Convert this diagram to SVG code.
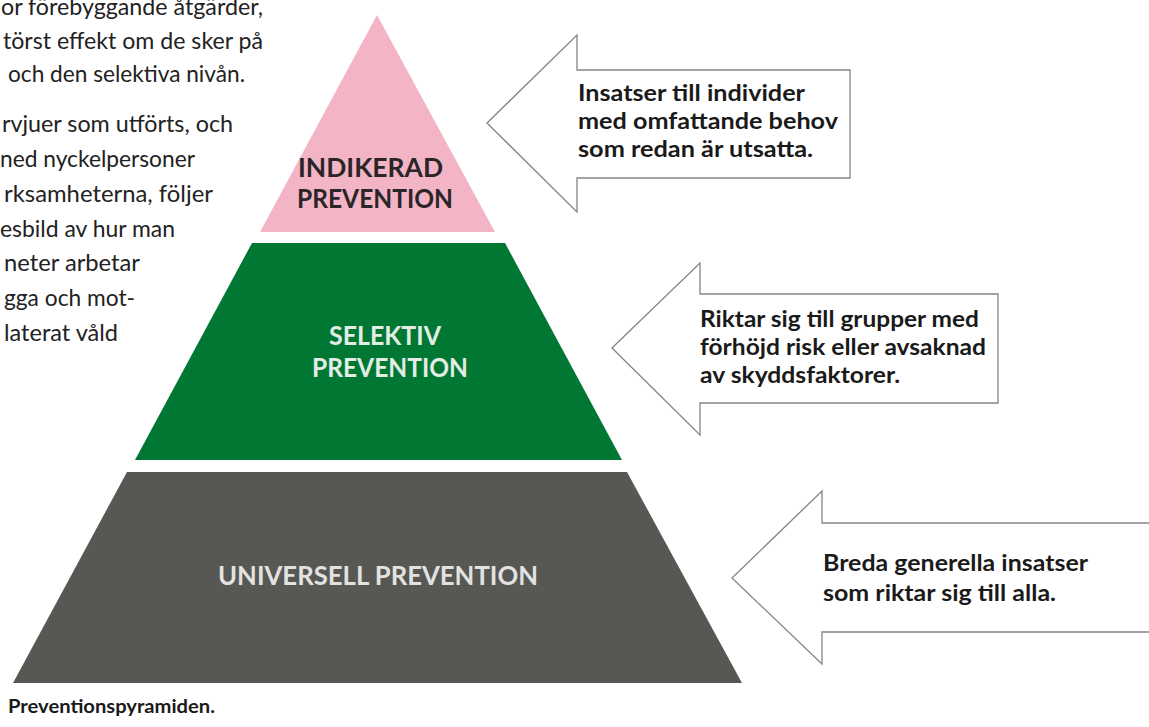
<svg xmlns="http://www.w3.org/2000/svg" width="1149" height="727" viewBox="0 0 1149 727">
<style>
.para{font-family:Lato,"Liberation Sans",sans-serif;font-size:23px;fill:#222;}
.lbl{font-family:Lato,"Liberation Sans",sans-serif;font-weight:bold;font-size:27px;}
.atxt{font-family:Lato,"Liberation Sans",sans-serif;font-weight:bold;font-size:23px;fill:#1a1a1a;}
.cap{font-family:Lato,"Liberation Sans",sans-serif;font-weight:bold;font-size:19px;fill:#1a1a1a;}
.arrow{fill:#fff;stroke:#858585;stroke-width:1.3;stroke-linejoin:miter;}
</style>
<rect width="1149" height="727" fill="#fff"/>
<g id="paragraph">
<text class="para" x="1" y="15" textLength="262" lengthAdjust="spacingAndGlyphs">or förebyggande åtgärder,</text>
<text class="para" x="3" y="49" textLength="260" lengthAdjust="spacingAndGlyphs">törst effekt om de sker på</text>
<text class="para" x="8" y="82" textLength="237" lengthAdjust="spacingAndGlyphs">och den selektiva nivån.</text>
<text class="para" x="2" y="132" textLength="231" lengthAdjust="spacingAndGlyphs">rvjuer som utförts, och</text>
<text class="para" x="0" y="167" textLength="195" lengthAdjust="spacingAndGlyphs">ned nyckelpersoner</text>
<text class="para" x="4" y="202" textLength="209" lengthAdjust="spacingAndGlyphs">rksamheterna, följer</text>
<text class="para" x="0" y="237" textLength="175" lengthAdjust="spacingAndGlyphs">esbild av hur man</text>
<text class="para" x="4" y="271" textLength="136" lengthAdjust="spacingAndGlyphs">neter arbetar</text>
<text class="para" x="4" y="306" textLength="131" lengthAdjust="spacingAndGlyphs">gga och mot-</text>
<text class="para" x="4" y="341" textLength="114" lengthAdjust="spacingAndGlyphs">laterat våld</text>
</g>
<g id="indikerad">
<polygon points="377,15 495,232 260,232" fill="#f3b4c6"/>
<text class="lbl" x="298" y="177" fill="#2a2526" textLength="145" lengthAdjust="spacingAndGlyphs">INDIKERAD</text>
<text class="lbl" x="297" y="208" fill="#2a2526" textLength="156" lengthAdjust="spacingAndGlyphs">PREVENTION</text>
</g>
<g id="selektiv">
<polygon points="252,243 505,243 622,460 135,460" fill="#007833"/>
<text class="lbl" x="329" y="345" fill="#e4ece6" textLength="112" lengthAdjust="spacingAndGlyphs">SELEKTIV</text>
<text class="lbl" x="312" y="377" fill="#e4ece6" textLength="156" lengthAdjust="spacingAndGlyphs">PREVENTION</text>
</g>
<g id="universell">
<polygon points="127,472 627,472 742,683 13,683" fill="#575754"/>
<text class="lbl" x="218" y="585" fill="#e2e2e0" textLength="320" lengthAdjust="spacingAndGlyphs">UNIVERSELL PREVENTION</text>
</g>
<g id="connectors">
<g id="arrow-indikerad">
<polygon class="arrow" points="487,123 577,35 577,70 850,70 850,178 577,178 577,212"/>
<text class="atxt" x="578" y="101" textLength="227" lengthAdjust="spacingAndGlyphs">Insatser till individer</text>
<text class="atxt" x="578" y="129" textLength="260" lengthAdjust="spacingAndGlyphs">med omfattande behov</text>
<text class="atxt" x="578" y="157" textLength="235" lengthAdjust="spacingAndGlyphs">som redan är utsatta.</text>
</g>
<g id="arrow-selektiv">
<polygon class="arrow" points="612,348 700,263 700,294 998,294 998,403 700,403 700,435"/>
<text class="atxt" x="700" y="327" textLength="279" lengthAdjust="spacingAndGlyphs">Riktar sig till grupper med</text>
<text class="atxt" x="700" y="355" textLength="286" lengthAdjust="spacingAndGlyphs">förhöjd risk eller avsaknad</text>
<text class="atxt" x="700" y="383" textLength="200" lengthAdjust="spacingAndGlyphs">av skyddsfaktorer.</text>
</g>
<g id="arrow-universell">
<polygon class="arrow" points="732,578 822,491 822,523 1155,523 1155,632 822,632 822,664"/>
<text class="atxt" x="823" y="571" textLength="265" lengthAdjust="spacingAndGlyphs">Breda generella insatser</text>
<text class="atxt" x="823" y="601" textLength="233" lengthAdjust="spacingAndGlyphs">som riktar sig till alla.</text>
</g>
</g>
<g id="caption">
<text class="cap" x="8" y="713" textLength="207" lengthAdjust="spacingAndGlyphs">Preventionspyramiden.</text>
</g>
</svg>
